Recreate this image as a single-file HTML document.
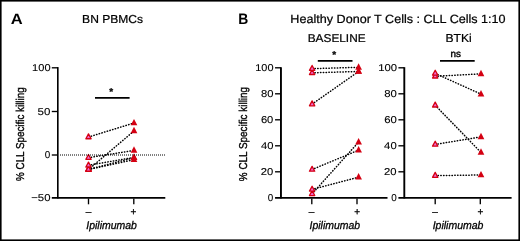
<!DOCTYPE html>
<html><head><meta charset="utf-8"><style>
html,body{margin:0;padding:0;background:#fff;}
body{width:520px;height:241px;overflow:hidden;}
svg{display:block;will-change:transform;text-rendering:geometricPrecision;font-family:"Liberation Sans",sans-serif;}
</style></head><body>
<svg width="520" height="241" viewBox="0 0 520 241">
<rect x="0" y="0" width="520" height="241" fill="#fff"/>
<rect x="0.8" y="0.8" width="518.4" height="239.4" fill="none" stroke="#000" stroke-width="1.6"/>
<line x1="57.80" y1="67.10" x2="57.80" y2="198.50" stroke="#000" stroke-width="1.65" />
<line x1="51.80" y1="67.80" x2="58.00" y2="67.80" stroke="#000" stroke-width="1.35" />
<line x1="51.80" y1="111.50" x2="58.00" y2="111.50" stroke="#000" stroke-width="1.35" />
<line x1="51.80" y1="155.00" x2="58.00" y2="155.00" stroke="#000" stroke-width="1.35" />
<line x1="51.80" y1="197.85" x2="165.30" y2="197.85" stroke="#000" stroke-width="1.75" />
<line x1="88.50" y1="198.50" x2="88.50" y2="204.30" stroke="#000" stroke-width="1.35" />
<line x1="133.80" y1="198.50" x2="133.80" y2="204.30" stroke="#000" stroke-width="1.35" />
<line x1="88.50" y1="137.04" x2="134.00" y2="123.00" stroke="#000" stroke-width="1.5" stroke-dasharray="0.4 2.4" stroke-linecap="round"/>
<line x1="88.50" y1="157.67" x2="134.00" y2="150.47" stroke="#000" stroke-width="1.5" stroke-dasharray="0.4 2.4" stroke-linecap="round"/>
<line x1="88.50" y1="169.54" x2="134.00" y2="130.97" stroke="#000" stroke-width="1.5" stroke-dasharray="0.4 2.4" stroke-linecap="round"/>
<line x1="88.50" y1="165.29" x2="134.00" y2="157.41" stroke="#000" stroke-width="1.5" stroke-dasharray="0.4 2.4" stroke-linecap="round"/>
<line x1="88.50" y1="169.37" x2="134.00" y2="157.75" stroke="#000" stroke-width="1.5" stroke-dasharray="0.4 2.4" stroke-linecap="round"/>
<line x1="88.50" y1="169.54" x2="134.00" y2="159.66" stroke="#000" stroke-width="1.5" stroke-dasharray="0.4 2.4" stroke-linecap="round"/>
<polygon points="88.50,166.34 91.15,171.24 85.85,171.24" fill="#f068d0" stroke="#d40012" stroke-width="1.3" stroke-linejoin="round"/>
<polygon points="88.50,166.34 91.15,171.24 85.85,171.24" fill="#f068d0" stroke="#d40012" stroke-width="1.3" stroke-linejoin="round"/>
<polygon points="88.50,166.17 91.15,171.07 85.85,171.07" fill="#f068d0" stroke="#d40012" stroke-width="1.3" stroke-linejoin="round"/>
<polygon points="88.50,162.09 91.15,166.99 85.85,166.99" fill="#f068d0" stroke="#d40012" stroke-width="1.3" stroke-linejoin="round"/>
<polygon points="88.50,154.47 91.15,159.37 85.85,159.37" fill="#f068d0" stroke="#d40012" stroke-width="1.3" stroke-linejoin="round"/>
<polygon points="88.50,133.84 91.15,138.74 85.85,138.74" fill="#f068d0" stroke="#d40012" stroke-width="1.3" stroke-linejoin="round"/>
<polygon points="134.00,155.56 137.35,161.96 130.65,161.96" fill="#d40012"/>
<polygon points="134.00,153.65 137.35,160.05 130.65,160.05" fill="#d40012"/>
<polygon points="134.00,153.31 137.35,159.71 130.65,159.71" fill="#d40012"/>
<polygon points="134.00,146.37 137.35,152.77 130.65,152.77" fill="#d40012"/>
<polygon points="134.00,126.87 137.35,133.27 130.65,133.27" fill="#d40012"/>
<polygon points="134.00,118.90 137.35,125.30 130.65,125.30" fill="#d40012"/>
<line x1="60.00" y1="155.00" x2="165.30" y2="155.00" stroke="#000" stroke-width="1.0" stroke-dasharray="1 1"/>
<line x1="95.00" y1="97.80" x2="129.60" y2="97.80" stroke="#000" stroke-width="1.7" />
<line x1="280.95" y1="67.20" x2="280.95" y2="198.50" stroke="#000" stroke-width="1.9" />
<line x1="275.05" y1="171.80" x2="280.95" y2="171.80" stroke="#000" stroke-width="1.35" />
<line x1="275.05" y1="145.80" x2="280.95" y2="145.80" stroke="#000" stroke-width="1.35" />
<line x1="275.05" y1="119.80" x2="280.95" y2="119.80" stroke="#000" stroke-width="1.35" />
<line x1="275.05" y1="93.80" x2="280.95" y2="93.80" stroke="#000" stroke-width="1.35" />
<line x1="275.05" y1="67.80" x2="280.95" y2="67.80" stroke="#000" stroke-width="1.35" />
<line x1="275.05" y1="197.85" x2="387.50" y2="197.85" stroke="#000" stroke-width="1.75" />
<line x1="311.80" y1="198.50" x2="311.80" y2="204.30" stroke="#000" stroke-width="1.35" />
<line x1="357.00" y1="198.50" x2="357.00" y2="204.30" stroke="#000" stroke-width="1.35" />
<line x1="312.10" y1="68.64" x2="358.60" y2="67.34" stroke="#000" stroke-width="1.5" stroke-dasharray="0.4 2.4" stroke-linecap="round"/>
<line x1="312.10" y1="72.80" x2="358.60" y2="71.50" stroke="#000" stroke-width="1.5" stroke-dasharray="0.4 2.4" stroke-linecap="round"/>
<line x1="312.10" y1="104.13" x2="358.60" y2="71.50" stroke="#000" stroke-width="1.5" stroke-dasharray="0.4 2.4" stroke-linecap="round"/>
<line x1="312.10" y1="169.52" x2="358.60" y2="150.15" stroke="#000" stroke-width="1.5" stroke-dasharray="0.4 2.4" stroke-linecap="round"/>
<line x1="312.10" y1="193.83" x2="358.60" y2="142.09" stroke="#000" stroke-width="1.5" stroke-dasharray="0.4 2.4" stroke-linecap="round"/>
<line x1="312.10" y1="189.41" x2="358.60" y2="177.19" stroke="#000" stroke-width="1.5" stroke-dasharray="0.4 2.4" stroke-linecap="round"/>
<polygon points="312.10,190.63 314.75,195.53 309.45,195.53" fill="#f068d0" stroke="#d40012" stroke-width="1.3" stroke-linejoin="round"/>
<polygon points="312.10,186.21 314.75,191.11 309.45,191.11" fill="#f068d0" stroke="#d40012" stroke-width="1.3" stroke-linejoin="round"/>
<polygon points="312.10,166.32 314.75,171.22 309.45,171.22" fill="#f068d0" stroke="#d40012" stroke-width="1.3" stroke-linejoin="round"/>
<polygon points="312.10,100.93 314.75,105.83 309.45,105.83" fill="#f068d0" stroke="#d40012" stroke-width="1.3" stroke-linejoin="round"/>
<polygon points="312.10,69.60 314.75,74.50 309.45,74.50" fill="#f068d0" stroke="#d40012" stroke-width="1.3" stroke-linejoin="round"/>
<polygon points="312.10,65.44 314.75,70.34 309.45,70.34" fill="#f068d0" stroke="#d40012" stroke-width="1.3" stroke-linejoin="round"/>
<polygon points="358.60,173.09 361.95,179.49 355.25,179.49" fill="#d40012"/>
<polygon points="358.60,146.05 361.95,152.45 355.25,152.45" fill="#d40012"/>
<polygon points="358.60,137.99 361.95,144.39 355.25,144.39" fill="#d40012"/>
<polygon points="358.60,67.40 361.95,73.80 355.25,73.80" fill="#d40012"/>
<polygon points="358.60,67.40 361.95,73.80 355.25,73.80" fill="#d40012"/>
<polygon points="358.60,63.24 361.95,69.64 355.25,69.64" fill="#d40012"/>
<line x1="404.30" y1="67.20" x2="404.30" y2="198.50" stroke="#000" stroke-width="1.9" />
<line x1="398.40" y1="171.80" x2="404.30" y2="171.80" stroke="#000" stroke-width="1.35" />
<line x1="398.40" y1="145.80" x2="404.30" y2="145.80" stroke="#000" stroke-width="1.35" />
<line x1="398.40" y1="119.80" x2="404.30" y2="119.80" stroke="#000" stroke-width="1.35" />
<line x1="398.40" y1="93.80" x2="404.30" y2="93.80" stroke="#000" stroke-width="1.35" />
<line x1="398.40" y1="67.80" x2="404.30" y2="67.80" stroke="#000" stroke-width="1.35" />
<line x1="398.40" y1="197.85" x2="511.60" y2="197.85" stroke="#000" stroke-width="1.75" />
<line x1="435.20" y1="198.50" x2="435.20" y2="204.30" stroke="#000" stroke-width="1.35" />
<line x1="480.30" y1="198.50" x2="480.30" y2="204.30" stroke="#000" stroke-width="1.35" />
<line x1="435.20" y1="73.45" x2="481.00" y2="94.12" stroke="#000" stroke-width="1.5" stroke-dasharray="0.4 2.4" stroke-linecap="round"/>
<line x1="435.20" y1="76.31" x2="481.00" y2="73.84" stroke="#000" stroke-width="1.5" stroke-dasharray="0.4 2.4" stroke-linecap="round"/>
<line x1="435.20" y1="105.30" x2="481.00" y2="152.36" stroke="#000" stroke-width="1.5" stroke-dasharray="0.4 2.4" stroke-linecap="round"/>
<line x1="435.20" y1="144.43" x2="481.00" y2="136.89" stroke="#000" stroke-width="1.5" stroke-dasharray="0.4 2.4" stroke-linecap="round"/>
<line x1="435.20" y1="175.63" x2="481.00" y2="174.98" stroke="#000" stroke-width="1.5" stroke-dasharray="0.4 2.4" stroke-linecap="round"/>
<polygon points="435.20,172.43 437.85,177.33 432.55,177.33" fill="#f068d0" stroke="#d40012" stroke-width="1.3" stroke-linejoin="round"/>
<polygon points="435.20,141.23 437.85,146.13 432.55,146.13" fill="#f068d0" stroke="#d40012" stroke-width="1.3" stroke-linejoin="round"/>
<polygon points="435.20,102.10 437.85,107.00 432.55,107.00" fill="#f068d0" stroke="#d40012" stroke-width="1.3" stroke-linejoin="round"/>
<polygon points="435.20,73.11 437.85,78.01 432.55,78.01" fill="#f068d0" stroke="#d40012" stroke-width="1.3" stroke-linejoin="round"/>
<polygon points="435.20,70.25 437.85,75.15 432.55,75.15" fill="#f068d0" stroke="#d40012" stroke-width="1.3" stroke-linejoin="round"/>
<polygon points="481.00,170.88 484.35,177.28 477.65,177.28" fill="#d40012"/>
<polygon points="481.00,148.26 484.35,154.66 477.65,154.66" fill="#d40012"/>
<polygon points="481.00,132.79 484.35,139.19 477.65,139.19" fill="#d40012"/>
<polygon points="481.00,90.02 484.35,96.42 477.65,96.42" fill="#d40012"/>
<polygon points="481.00,69.74 484.35,76.14 477.65,76.14" fill="#d40012"/>
<line x1="317.80" y1="60.80" x2="352.50" y2="60.80" stroke="#000" stroke-width="1.7" />
<line x1="440.00" y1="60.80" x2="474.70" y2="60.80" stroke="#000" stroke-width="1.7" />
<text x="32.14" y="71.10" font-size="9.9" textLength="18.42" lengthAdjust="spacingAndGlyphs" stroke="#000" stroke-width="0.1">100</text>
<text x="37.64" y="114.80" font-size="9.9" textLength="12.84" lengthAdjust="spacingAndGlyphs" stroke="#000" stroke-width="0.1">50</text>
<text x="44.65" y="158.30" font-size="9.9" stroke="#000" stroke-width="0.1">0</text>
<text x="31.23" y="201.30" font-size="9.9" textLength="19.27" lengthAdjust="spacingAndGlyphs" stroke="#000" stroke-width="0.1">−50</text>
<text x="267.81" y="201.10" font-size="9.9" stroke="#000" stroke-width="0.1">0</text>
<text x="260.81" y="175.10" font-size="9.9" textLength="12.49" lengthAdjust="spacingAndGlyphs" stroke="#000" stroke-width="0.1">20</text>
<text x="260.92" y="149.10" font-size="9.9" textLength="12.47" lengthAdjust="spacingAndGlyphs" stroke="#000" stroke-width="0.1">40</text>
<text x="260.92" y="123.10" font-size="9.9" textLength="12.43" lengthAdjust="spacingAndGlyphs" stroke="#000" stroke-width="0.1">60</text>
<text x="260.92" y="97.10" font-size="9.9" textLength="12.48" lengthAdjust="spacingAndGlyphs" stroke="#000" stroke-width="0.1">80</text>
<text x="255.26" y="71.10" font-size="9.9" textLength="18.22" lengthAdjust="spacingAndGlyphs" stroke="#000" stroke-width="0.1">100</text>
<text x="391.17" y="201.10" font-size="9.9" stroke="#000" stroke-width="0.1">0</text>
<text x="384.12" y="175.10" font-size="9.9" textLength="12.52" lengthAdjust="spacingAndGlyphs" stroke="#000" stroke-width="0.1">20</text>
<text x="384.14" y="149.10" font-size="9.9" textLength="12.56" lengthAdjust="spacingAndGlyphs" stroke="#000" stroke-width="0.1">40</text>
<text x="384.27" y="123.10" font-size="9.9" textLength="12.63" lengthAdjust="spacingAndGlyphs" stroke="#000" stroke-width="0.1">60</text>
<text x="384.26" y="97.10" font-size="9.9" textLength="12.65" lengthAdjust="spacingAndGlyphs" stroke="#000" stroke-width="0.1">80</text>
<text x="378.22" y="71.10" font-size="9.9" textLength="18.87" lengthAdjust="spacingAndGlyphs" stroke="#000" stroke-width="0.1">100</text>
<text x="85.71" y="215.00" font-size="10" stroke="#000" stroke-width="0.3">–</text>
<text x="130.61" y="215.00" font-size="10" stroke="#000" stroke-width="0.3">+</text>
<text x="308.79" y="215.00" font-size="10" stroke="#000" stroke-width="0.3">–</text>
<text x="354.36" y="215.00" font-size="10" stroke="#000" stroke-width="0.3">+</text>
<text x="432.24" y="215.00" font-size="10" stroke="#000" stroke-width="0.3">–</text>
<text x="477.45" y="215.00" font-size="10" stroke="#000" stroke-width="0.3">+</text>
<text x="86.29" y="229.00" font-size="11.2" font-style="italic" textLength="50.60" lengthAdjust="spacingAndGlyphs" stroke="#000" stroke-width="0.3">Ipilimumab</text>
<text x="309.57" y="229.00" font-size="11.2" font-style="italic" textLength="50.52" lengthAdjust="spacingAndGlyphs" stroke="#000" stroke-width="0.3">Ipilimumab</text>
<text x="432.64" y="229.00" font-size="11.2" font-style="italic" textLength="50.79" lengthAdjust="spacingAndGlyphs" stroke="#000" stroke-width="0.3">Ipilimumab</text>
<text x="109.32" y="95.30" font-size="10" font-weight="bold" stroke="#000" stroke-width="0.3">*</text>
<text x="332.16" y="57.90" font-size="10" font-weight="bold" stroke="#000" stroke-width="0.3">*</text>
<text x="450.62" y="57.20" font-size="9.8" textLength="10.45" lengthAdjust="spacingAndGlyphs" stroke="#000" stroke-width="0.4">ns</text>
<text x="10.69" y="23.80" font-size="15.0" font-weight="bold" textLength="11.94" lengthAdjust="spacingAndGlyphs">A</text>
<text x="238.15" y="23.80" font-size="15.2" font-weight="bold" textLength="10.03" lengthAdjust="spacingAndGlyphs">B</text>
<text x="82.11" y="23.10" font-size="11.6" textLength="61.00" lengthAdjust="spacingAndGlyphs" stroke="#000" stroke-width="0.22">BN PBMCs</text>
<text x="290.38" y="23.20" font-size="12.0" textLength="215.26" lengthAdjust="spacingAndGlyphs" stroke="#000" stroke-width="0.22">Healthy Donor T Cells : CLL Cells 1:10</text>
<text x="307.70" y="42.10" font-size="11.4" textLength="57.93" lengthAdjust="spacingAndGlyphs" stroke="#000" stroke-width="0.22">BASELINE</text>
<text x="445.43" y="42.20" font-size="11.6" textLength="26.24" lengthAdjust="spacingAndGlyphs" stroke="#000" stroke-width="0.22">BTKi</text>
<text transform="translate(24.30,180.90) rotate(-90)" font-size="11.4" textLength="93.53" lengthAdjust="spacingAndGlyphs" stroke="#000" stroke-width="0.35">% CLL Specific killing</text>
<text transform="translate(246.60,181.14) rotate(-90)" font-size="11.4" textLength="94.16" lengthAdjust="spacingAndGlyphs" stroke="#000" stroke-width="0.35">% CLL Specific killing</text>
</svg>
</body></html>
